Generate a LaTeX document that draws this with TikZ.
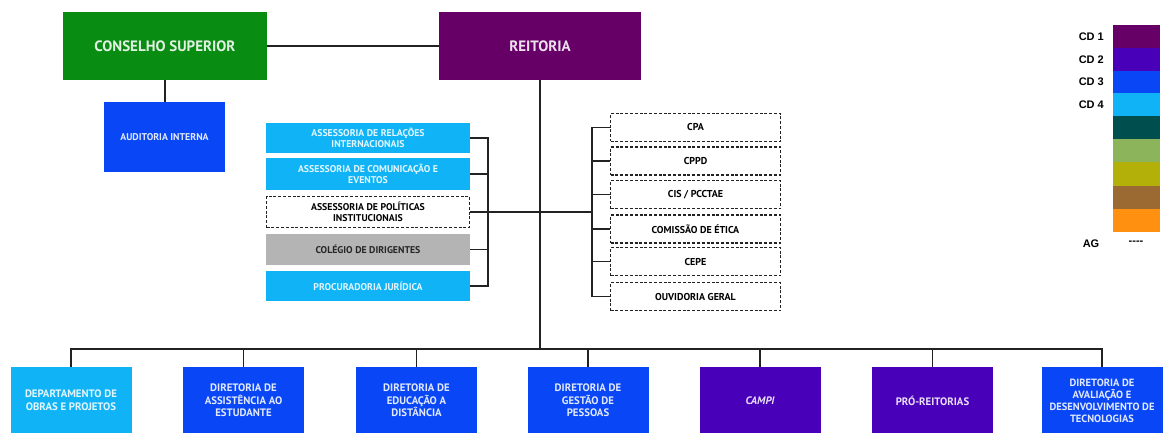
\documentclass[tikz,border=0pt]{standalone}
\usepackage{fontspec}
\setmainfont{PT Sans}
\newfontfamily\legfont{Liberation Sans}
\definecolor{cgreen}{RGB}{8,140,18}
\definecolor{cdone}{RGB}{102,0,102}
\definecolor{cdtwo}{RGB}{72,0,184}
\definecolor{cdthree}{RGB}{8,70,246}
\definecolor{cdfour}{RGB}{16,180,246}
\definecolor{cgray}{RGB}{180,180,180}
\definecolor{cteal}{RGB}{0,78,78}
\definecolor{clgreen}{RGB}{140,180,90}
\definecolor{colive}{RGB}{180,176,10}
\definecolor{cbrown}{RGB}{154,106,50}
\definecolor{corange}{RGB}{255,144,16}
\definecolor{cline}{RGB}{34,34,34}
\tikzset{
  box/.style={inner sep=1pt, align=center, font=\bfseries\fontsize{9.8}{11}\selectfont},
  fillbox/.style={box, fill=#1, text=white!88!#1},
  dashbox/.style={box, draw=cline, line width=1.9pt, dash pattern=on 3pt off 1.8pt, fill=white, text=black, font=\bfseries\fontsize{10}{12}\selectfont},
  big/.style={font=\bfseries\fontsize{15}{18}\selectfont},
  bottom/.style={fillbox=#1, minimum width=121pt, minimum height=67pt, font=\bfseries\fontsize{10.8}{12.6}\selectfont},
  conn/.style={draw=cline, line width=1.6pt},
  leg/.style={font=\legfont\bfseries\fontsize{11}{13}\selectfont, inner sep=0pt}
}
\begin{document}
\begin{tikzpicture}[x=1pt,y=-1pt]
\useasboundingbox (0,0) rectangle (1170,433);
% top
\node[fillbox=cgreen, big, minimum width=204pt, minimum height=68pt] (cs) at (165,46) {CONSELHO SUPERIOR};
\node[fillbox=cdone, big, minimum width=202pt, minimum height=68pt] (rei) at (540,46) {REITORIA};
\node[fillbox=cdthree, minimum width=121pt, minimum height=70pt] (ai) at (164.5,137) {AUDITORIA INTERNA};
% left column
\node[fillbox=cdfour, minimum width=204pt, minimum height=30pt] (ari) at (368,138) {ASSESSORIA DE RELAÇÕES\\INTERNACIONAIS};
\node[fillbox=cdfour, minimum width=204pt, minimum height=32pt] (ace) at (368,174) {ASSESSORIA DE COMUNICAÇÃO E\\EVENTOS};
\node[dashbox, font=\bfseries\fontsize{9.8}{11}\selectfont, minimum width=203pt, minimum height=31pt] (api) at (368,212) {ASSESSORIA DE POLÍTICAS\\INSTITUCIONAIS};
\node[box, fill=cgray, text=black!85, minimum width=204pt, minimum height=31pt] (cdir) at (368,249.5) {COLÉGIO DE DIRIGENTES};
\node[fillbox=cdfour, minimum width=204pt, minimum height=30pt] (pj) at (368,286) {PROCURADORIA JURÍDICA};
% right column
\node[dashbox, minimum width=170pt, minimum height=28pt] (cpa) at (695.5,127.5) {CPA};
\node[dashbox, minimum width=170pt, minimum height=28pt] (cppd) at (695.5,161) {CPPD};
\node[dashbox, minimum width=170pt, minimum height=28pt] (cis) at (695.5,194.5) {CIS / PCCTAE};
\node[dashbox, minimum width=170pt, minimum height=28pt] (cet) at (695.5,229) {COMISSÃO DE ÉTICA};
\node[dashbox, minimum width=170pt, minimum height=28pt] (cepe) at (695.5,261.5) {CEPE};
\node[dashbox, minimum width=170pt, minimum height=28pt] (ouv) at (695.5,296.5) {OUVIDORIA GERAL};
% bottom row
\node[bottom=cdfour] (dop) at (71,400.5) {DEPARTAMENTO DE\\OBRAS E PROJETOS};
\node[bottom=cdthree] (dae) at (243.5,400.5) {DIRETORIA DE\\ASSISTÊNCIA AO\\ESTUDANTE};
\node[bottom=cdthree] (dead) at (416.5,400.5) {DIRETORIA DE\\EDUCAÇÃO A\\DISTÂNCIA};
\node[bottom=cdthree] (dgp) at (588,400.5) {DIRETORIA DE\\GESTÃO DE\\PESSOAS};
\node[bottom=cdtwo] (campi) at (760,400.5) {\itshape CAMPI};
\node[bottom=cdtwo] (pr) at (932.5,400.5) {PRÓ-REITORIAS};
\node[bottom=cdthree, font=\bfseries\fontsize{10.5}{12}\selectfont] (dadt) at (1102,400.5) {DIRETORIA DE\\AVALIAÇÃO E\\DESENVOLVIMENTO DE\\TECNOLOGIAS};
% connectors
\coordinate (lbar) at (488,212);
\coordinate (rbar) at (592,212);
\coordinate (bus) at (540,349);
\draw[conn] (cs.east) -- (rei.west);
\draw[conn] (ai.north -| cs.south) -- (cs.south);
\draw[conn] (ari.east) -| (lbar);
\draw[conn] (pj.east) -| (lbar);
\draw[conn] (ace.east) -- (ace.east -| lbar);
\draw[conn] (api.east) -- (lbar);
\draw[conn] (cdir.east) -- (cdir.east -| lbar);
\draw[conn] (lbar) -- (rbar);
\draw[conn] (rbar) |- (cpa.west);
\draw[conn] (rbar) |- (ouv.west);
\draw[conn] (cppd.west -| rbar) -- (cppd.west);
\draw[conn] (cis.west -| rbar) -- (cis.west);
\draw[conn] (cet.west -| rbar) -- (cet.west);
\draw[conn] (cepe.west -| rbar) -- (cepe.west);
\draw[conn] (rei.south) -- (bus);
\draw[conn] (dop.north) |- (bus) -| (dadt.north);
\foreach \n in {dae,dead,dgp,campi,pr}{
  \draw[conn] (\n.north) -- (\n.north |- bus);
}
% legend
\fill[cdone] (1113,25) rectangle (1160,48);
\fill[cdtwo] (1113,48) rectangle (1160,71);
\fill[cdthree] (1113,71) rectangle (1160,93);
\fill[cdfour] (1113,93) rectangle (1160,116);
\fill[cteal] (1113,116) rectangle (1160,139);
\fill[clgreen] (1113,139) rectangle (1160,162);
\fill[colive] (1113,162) rectangle (1160,186);
\fill[cbrown] (1113,186) rectangle (1160,209);
\fill[corange] (1113,209) rectangle (1160,232);
\node[leg, anchor=east] (l1) at (1104,37) {CD 1};
\node[leg, anchor=east] (l2) at (1104,59.5) {CD 2};
\node[leg, anchor=east] (l3) at (1104,82) {CD 3};
\node[leg, anchor=east] (l4) at (1104,104.5) {CD 4};
\node[leg] (lag) at (1091,244) {AG};
\node[leg] (lagd) at (1136,243) {----};
\end{tikzpicture}
\end{document}
